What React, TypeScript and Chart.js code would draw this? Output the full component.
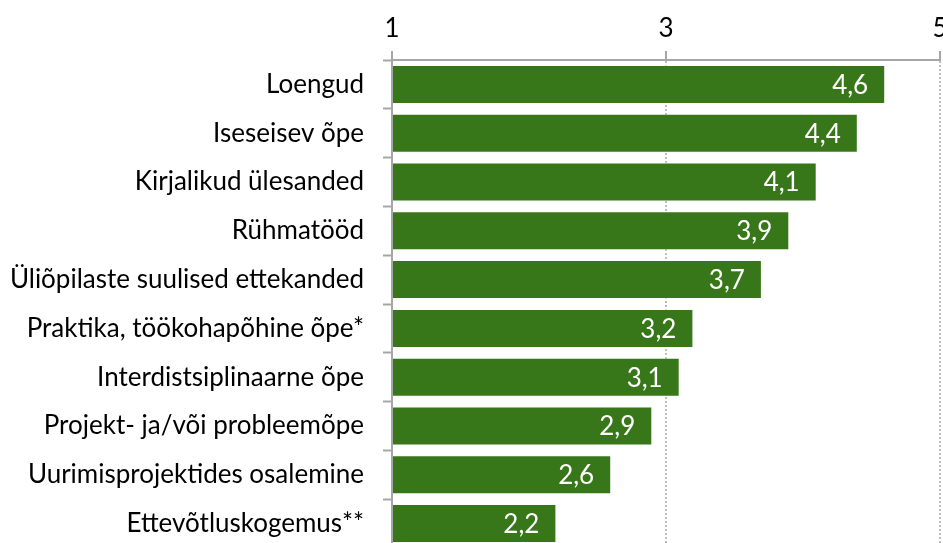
import React, { useEffect, useRef } from "react";
import { Chart, registerables } from "chart.js";

Chart.register(...registerables);

const categories: string[] = [
  "Loengud",
  "Iseseisev õpe",
  "Kirjalikud ülesanded",
  "Rühmatööd",
  "Üliõpilaste suulised ettekanded",
  "Praktika, töökohapõhine õpe*",
  "Interdistsiplinaarne õpe",
  "Projekt- ja/või probleemõpe",
  "Uurimisprojektides osalemine",
  "Ettevõtluskogemus**",
];
const values: number[] = [4.6, 4.4, 4.1, 3.9, 3.7, 3.2, 3.1, 2.9, 2.6, 2.2];
const axisMin = 1;
const axisMax = 5;
const axisStep = 2;

const FONT_FAMILY = "Lato, 'Open Sans', sans-serif";
const FONT_SIZE = 26;
const BAR_COLOR = "#387719";
const AXIS_COLOR = "#a6a6a6";
const GRID_COLOR = "#bdbdbd";

const valueLabels = {
  id: "valueLabels",
  afterDatasetsDraw(chart: any) {
    const ctx = chart.ctx;
    const meta = chart.getDatasetMeta(0);
    ctx.save();
    ctx.fillStyle = "#ffffff";
    ctx.font = `${FONT_SIZE}px ${FONT_FAMILY}`;
    ctx.textAlign = "right";
    ctx.textBaseline = "middle";
    meta.data.forEach((bar: any, i: number) => {
      const v = chart.data.datasets[0].data[i] as number;
      ctx.fillText(v.toFixed(1).replace(".", ","), bar.x - 17, bar.y + 1);
    });
    ctx.restore();
  },
};

export default function App() {
  const ref = useRef<HTMLCanvasElement | null>(null);
  useEffect(() => {
    document.body.style.margin = "0";
    document.body.style.overflow = "hidden";
    const canvas = ref.current!;
    const chart = new Chart(canvas, {
      type: "bar",
      data: {
        labels: categories,
        datasets: [
          {
            data: values,
            backgroundColor: BAR_COLOR,
            borderColor: "rgba(255,255,255,0.45)",
            borderWidth: 1,
            barPercentage: 0.8,
            categoryPercentage: 1,
          },
        ],
      },
      options: {
        indexAxis: "y",
        animation: false,
        responsive: false,
        devicePixelRatio: 1,
        layout: { padding: { left: 0, right: 20, top: 0, bottom: 52 } },
        plugins: {
          legend: { display: false },
          tooltip: { enabled: false },
        },
        scales: {
          x: {
            position: "top",
            min: axisMin,
            max: axisMax,
            afterFit: (s: any) => {
              s.height = 60;
            },
            ticks: {
              stepSize: axisStep,
              color: "#000",
              padding: 7,
              font: { family: FONT_FAMILY, size: FONT_SIZE },
            },
            grid: {
              color: (c: any) => (c.tick && c.tick.value === axisMin ? "rgba(0,0,0,0)" : GRID_COLOR),
              lineWidth: 2,
              drawTicks: true,
              tickLength: 9,
              tickColor: AXIS_COLOR,
              tickWidth: 2,
              tickBorderDash: [],
            },
            border: { display: true, color: AXIS_COLOR, width: 2, dash: [2, 2] },
          },
          y: {
            afterFit: (s: any) => {
              s.width = 392;
            },
            ticks: {
              color: "#000",
              padding: 19,
              font: { family: FONT_FAMILY, size: FONT_SIZE },
            },
            grid: {
              drawOnChartArea: false,
              drawTicks: true,
              tickLength: 9,
              tickColor: AXIS_COLOR,
              tickWidth: 2,
            },
            border: { display: true, color: AXIS_COLOR, width: 2, z: 1 },
          },
        },
      },
      plugins: [valueLabels],
    });
    return () => chart.destroy();
  }, []);
  return (
    <div style={{ position: "fixed", left: 0, top: 0, width: 960, height: 600 }}>
      <canvas ref={ref} width={960} height={600} style={{ width: 960, height: 600 }} />
    </div>
  );
}
